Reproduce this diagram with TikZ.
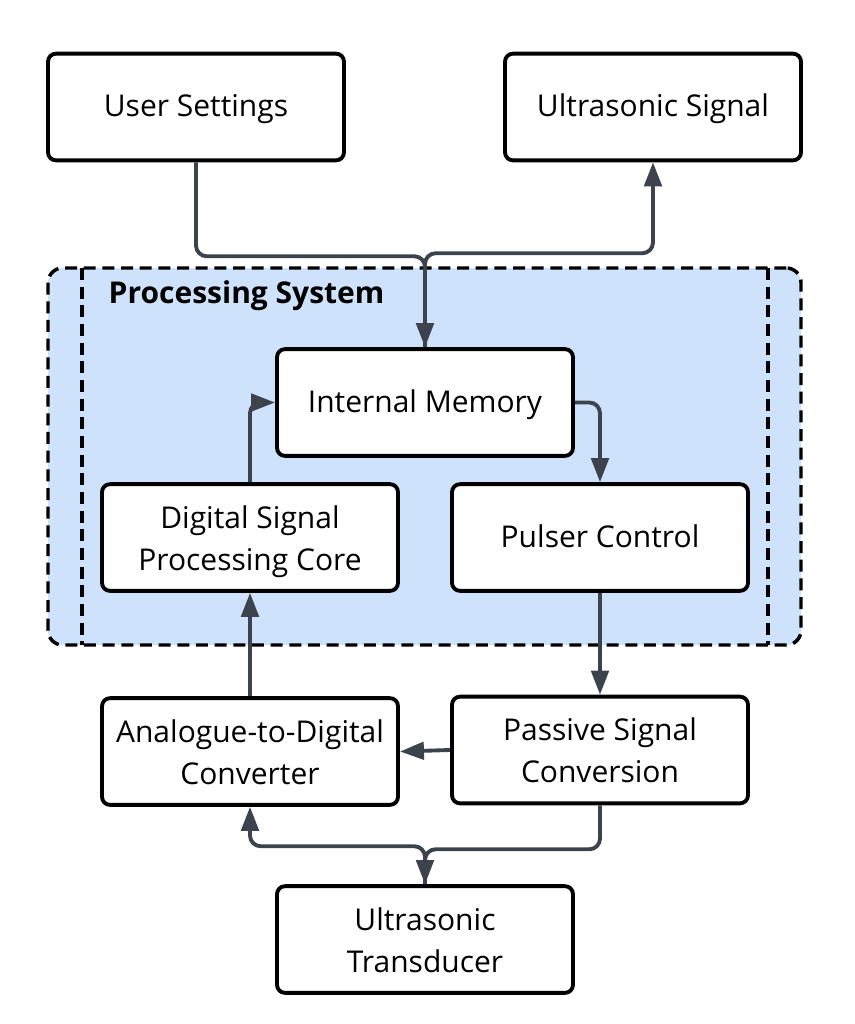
\documentclass[tikz,border=0pt]{standalone}
\usepackage{fontspec}
\setmainfont{Open Sans}
\usetikzlibrary{arrows.meta}
\definecolor{edgec}{HTML}{3D434C}
\definecolor{lanefill}{HTML}{CFE2FC}
\begin{document}
\begin{tikzpicture}[x=0.75pt,y=-0.75pt,
  box/.style={draw=black, line width=2.9pt, rounded corners=6pt, fill=white,
    minimum width=222pt, minimum height=80pt, align=center,
    font=\fontsize{22.5}{31.5}\selectfont, inner sep=0pt,
    text height=17.5pt, text depth=3pt},
  box2/.style={box, text height=52pt, text depth=3pt},
  conn/.style={draw=edgec, line width=2.9pt, rounded corners=8pt,
    -{Triangle[length=18pt,width=13pt]}},
  lane/.style={draw=black, line width=2.6pt, dash pattern=on 9pt off 5pt},
  container/.style={lane, fill=lanefill, rounded corners=11pt,
    minimum width=564.75pt, minimum height=282.75pt, inner sep=0pt}]
\useasboundingbox (0,0) rectangle (855,1024);
% container
\node[container] (ps) at (424.5,456.5) {};
\coordinate (l1) at (82,268);
\coordinate (l2) at (82,645);
\coordinate (r1) at (768,268);
\coordinate (r2) at (768,645);
\draw[lane] (l1) -- (l2);
\draw[lane] (r1) -- (r2);
\node[anchor=west, font=\fontsize{22.5}{24}\selectfont\bfseries] (pslabel) at (104,296) {Processing System};
% nodes
\node[box] (us) at (196,107) {User Settings};
\node[box] (usig) at (653,107) {Ultrasonic Signal};
\node[box] (im) at (425,402.5) {Internal Memory};
\node[box2] (dsp) at (250,537.5) {Digital Signal\\Processing Core};
\node[box] (pc) at (600,537.5) {Pulser Control};
\node[box2] (adc) at (250,751.5) {Analogue-to-Digital\\Converter};
\node[box2] (psc) at (600,750) {Passive Signal\\Conversion};
\node[box2] (ut) at (425,939.5) {Ultrasonic\\Transducer};
% connectors
\draw[conn] (us.south) -- ++(0,94) -| (im.north);
\draw[conn] (im.north) -- ++(0,-94) -| (usig.south);
\draw[conn] (dsp.north) |- (im.west);
\draw[conn] (im.east) -| (pc.north);
\draw[conn] (pc.south) -- (psc.north);
\draw[conn] (psc.west) -- (adc.east);
\draw[conn] (adc.north) -- (dsp.south);
\draw[conn] (psc.south) -- ++(0,44) -| (ut.north);
\draw[conn] (ut.north) -- ++(0,-38) -| (adc.south);
\end{tikzpicture}
\end{document}
